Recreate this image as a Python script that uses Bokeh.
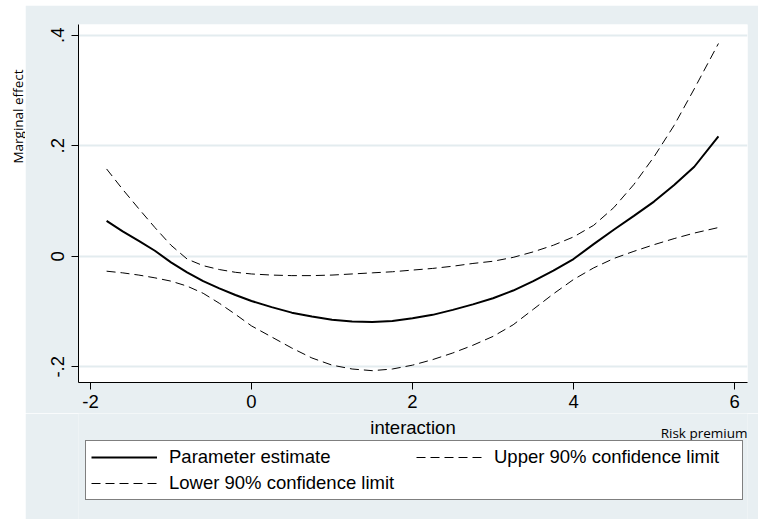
import math
from bokeh.plotting import figure
from bokeh.layouts import row, column
from bokeh.models import Range1d, FixedTicker, CustomJSTickFormatter, Legend, LegendItem
from bokeh.core.properties import value
from bokeh.embed import file_html
from bokeh.resources import INLINE

# ---- data ----
risk_premium = [-1.8, -1.6, -1.4, -1.2, -1.0, -0.8, -0.6, -0.4, -0.2, 0.0, 0.25, 0.5, 0.75,
                1.0, 1.25, 1.5, 1.75, 2.0, 2.25, 2.5, 2.75, 3.0, 3.25, 3.5, 3.75, 4.0, 4.25,
                4.5, 4.75, 5.0, 5.25, 5.5, 5.8]
param_estimate = [0.064, 0.045, 0.028, 0.010, -0.011, -0.029, -0.045, -0.058, -0.070, -0.081,
                  -0.092, -0.102, -0.109, -0.115, -0.118, -0.119, -0.117, -0.112, -0.106,
                  -0.097, -0.087, -0.076, -0.062, -0.045, -0.026, -0.005, 0.022, 0.048,
                  0.073, 0.099, 0.129, 0.162, 0.217]
upper_90 = [0.158, 0.121, 0.086, 0.052, 0.020, -0.005, -0.017, -0.024, -0.029, -0.032,
            -0.034, -0.035, -0.035, -0.034, -0.032, -0.030, -0.028, -0.025, -0.022, -0.018,
            -0.013, -0.009, -0.002, 0.008, 0.020, 0.035, 0.056, 0.088, 0.130, 0.180, 0.237,
            0.303, 0.385]
lower_90 = [-0.027, -0.030, -0.034, -0.039, -0.045, -0.054, -0.067, -0.085, -0.105, -0.126,
            -0.146, -0.166, -0.184, -0.197, -0.204, -0.207, -0.204, -0.197, -0.187, -0.175,
            -0.161, -0.145, -0.124, -0.096, -0.068, -0.042, -0.021, -0.004, 0.009, 0.021,
            0.032, 0.042, 0.052]

x_ticks = [-2, 0, 2, 4, 6]
x_tick_labels = ["-2", "0", "2", "4", "6"]
y_ticks = [-0.2, 0.0, 0.2, 0.4]
y_tick_labels = ["-.2", "0", ".2", ".4"]

series_names = ["Parameter estimate", "Upper 90% confidence limit", "Lower 90% confidence limit"]
x_title = "interaction"
x_note = "Risk premium"
y_title = "Marginal effect"

BG = "#e8eff2"
FONT = "Liberation Sans"
SOLID = dict(line_color="black", line_width=2)
DASHED = dict(line_color="black", line_width=1, line_dash="9 5")
NO_POINT = [float("nan")]  # legend-only renderers carry no visible data

# ---- left white strip carrying the y title (coordinates = page pixels) ----
left = figure(width=25, height=519, output_backend="svg", toolbar_location=None,
              x_range=Range1d(0, 25), y_range=Range1d(519, 0), min_border=0,
              x_axis_type=None, y_axis_type=None)
left.title.visible = False
left.outline_line_color = None
left.background_fill_color = "white"
left.border_fill_color = "white"
left.text(x=[17], y=[116], text=[y_title], angle=math.pi / 2, text_align="center",
          text_baseline="middle", text_font=value("Open Sans"),
          text_font_size=value("13.5px"), text_color="black")

# ---- main plot ----
p = figure(width=733, height=408, output_backend="svg", toolbar_location=None,
           x_range=Range1d(-2.149, 6.161), y_range=Range1d(-0.2284, 0.4194),
           min_border_left=53, min_border_right=11, min_border_top=19, min_border_bottom=31,
           margin=(5, 0, 0, 0))
p.title.visible = False
p.background_fill_color = "white"
p.border_fill_color = BG
p.outline_line_color = None

p.line(risk_premium, param_estimate, **SOLID)
p.line(risk_premium, upper_90, **DASHED)
p.line(risk_premium, lower_90, **DASHED)

fmt_code = """
for (let i = 0; i < t.length; i++) { if (Math.abs(tick - t[i]) < 1e-9) return l[i]; }
return "";
"""
p.xaxis.ticker = FixedTicker(ticks=x_ticks)
p.xaxis.formatter = CustomJSTickFormatter(args=dict(t=x_ticks, l=x_tick_labels), code=fmt_code)
p.yaxis.ticker = FixedTicker(ticks=y_ticks)
p.yaxis.formatter = CustomJSTickFormatter(args=dict(t=y_ticks, l=y_tick_labels), code=fmt_code)
for ax in (p.xaxis, p.yaxis):
    ax.axis_line_color = "black"
    ax.axis_line_width = 1
    ax.major_tick_line_color = "black"
    ax.major_tick_in = 0
    ax.major_tick_out = 7
    ax.minor_tick_line_color = None
    ax.major_label_text_font = FONT
    ax.major_label_text_font_size = "18.5px"
    ax.major_label_text_color = "black"
p.xaxis.major_label_standoff = 5
p.yaxis.major_label_standoff = 7
p.yaxis.major_label_orientation = "parallel"

p.xgrid.grid_line_color = None
p.ygrid.grid_line_color = "#e3ecef"
p.ygrid.grid_line_width = 2

# ---- bottom strip: x title, note and legend (coordinates = page pixels) ----
# its frame lines up with the main frame (x 78..747 on the page)
q = figure(width=733, height=106, output_backend="svg", toolbar_location=None,
           x_range=Range1d(78, 747), y_range=Range1d(519, 413),
           min_border_left=53, min_border_right=11, min_border_top=0, min_border_bottom=0,
           x_axis_type=None, y_axis_type=None)
q.title.visible = False
q.outline_line_color = None
q.background_fill_color = BG
q.border_fill_color = BG
q.text(x=[412.5], y=[427], text=[x_title], text_align="center", text_baseline="alphabetic",
       text_font=value(FONT), text_font_size=value("18.5px"), text_color="black")
q.text(x=[747], y=[432], text=[x_note], text_align="right", text_baseline="alphabetic",
       text_font=value("Open Sans"), text_font_size=value("13.5px"), text_color="black")

k1 = q.line(x=NO_POINT, y=NO_POINT, **SOLID)
k2 = q.line(x=NO_POINT, y=NO_POINT, **DASHED)
k3 = q.line(x=NO_POINT, y=NO_POINT, **DASHED)
legend = Legend(items=[LegendItem(label=series_names[0], renderers=[k1]),
                       LegendItem(label=series_names[1], renderers=[k2]),
                       LegendItem(label=series_names[2], renderers=[k3])],
                location=(7, 19), orientation="horizontal", ncols=2,
                glyph_width=66, glyph_height=20, label_height=20, label_width=243,
                label_standoff=12, spacing=4, padding=5, margin=0,
                label_text_font=FONT, label_text_font_size="18.5px", label_text_color="black",
                border_line_color="black", border_line_width=1, background_fill_color="white",
                background_fill_alpha=1.0)
q.add_layout(legend, "center")

layout = row(left, column(p, q, spacing=0), spacing=0)
open("out.html", "w").write(file_html(layout, INLINE))
